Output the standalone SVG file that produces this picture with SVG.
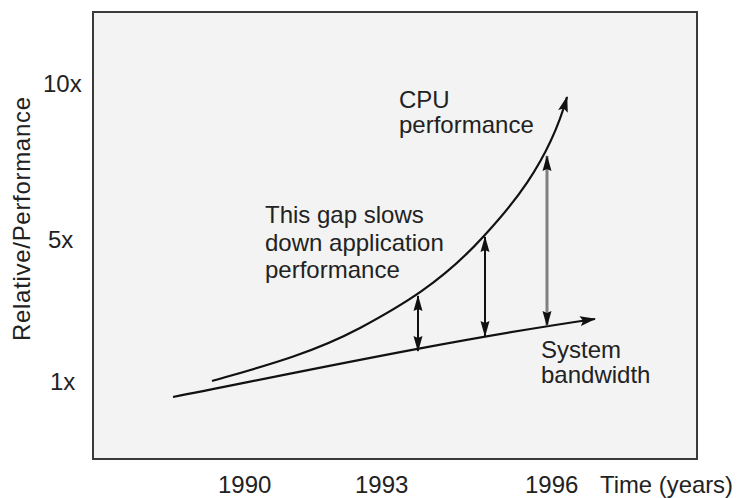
<svg xmlns="http://www.w3.org/2000/svg" width="737" height="498" viewBox="0 0 737 498">
<style>
  text { font-family: "Liberation Sans", Arial, sans-serif; font-size: 24px; fill: #222; }
  .curve { fill: none; stroke: #111; stroke-width: 2.2; }
  .gap { fill: none; stroke: #111; stroke-width: 2; }
  .gap2 { fill: none; stroke: #808080; stroke-width: 3; }
</style>
<defs>
  <marker id="ah" viewBox="0 0 16 10" refX="15" refY="5" markerWidth="16" markerHeight="10" markerUnits="userSpaceOnUse" orient="auto-start-reverse">
    <path d="M0,0 L16,5 L0,10 L3,5 Z" fill="#111"/>
  </marker>
  <marker id="ahs" viewBox="0 0 16 10" refX="15" refY="5" markerWidth="16" markerHeight="10" markerUnits="userSpaceOnUse" orient="auto-start-reverse">
    <path d="M0,0.5 L16,5 L0,9.5 L2,5 Z" fill="#111"/>
  </marker>
</defs>
<rect x="0" y="0" width="737" height="498" fill="#ffffff"/>
<g id="plot-frame">
  <rect x="93" y="12" width="604" height="447" fill="#f3f3f3" stroke="#3a3a3a" stroke-width="2"/>
</g>
<g id="axis-labels">
  <text x="43" y="92">10x</text>
  <text x="48" y="248">5x</text>
  <text x="50" y="390">1x</text>
  <text transform="translate(30,219) rotate(-90)" text-anchor="middle" textLength="244" lengthAdjust="spacing">Relative/Performance</text>
  <text x="218" y="493">1990</text>
  <text x="355" y="493">1993</text>
  <text x="525" y="493">1996</text>
  <text x="600" y="493" textLength="133" lengthAdjust="spacingAndGlyphs">Time (years)</text>
</g>
<g id="connectors">
  <path id="cpu-curve" class="curve" d="M212,381 C261,367 311,354 360,328 C401,306 442,282 483,237 C508,210 548,165 567,97" marker-end="url(#ah)"/>
  <path id="bandwidth-line" class="curve" d="M173,397 C300,372 450,340 595,319" marker-end="url(#ah)"/>
  <line id="gap-1" class="gap" x1="418" y1="296" x2="418" y2="351" marker-start="url(#ahs)" marker-end="url(#ahs)"/>
  <line id="gap-2" class="gap" x1="485" y1="237" x2="485" y2="336" marker-start="url(#ahs)" marker-end="url(#ahs)"/>
  <line id="gap-3" class="gap2" x1="547" y1="156" x2="547" y2="326" marker-start="url(#ahs)" marker-end="url(#ahs)"/>
</g>
<g id="label-cpu">
  <text x="399" y="108">CPU</text>
  <text x="399" y="133">performance</text>
</g>
<g id="label-gap">
  <text x="265" y="223">This gap slows</text>
  <text x="265" y="251">down application</text>
  <text x="265" y="278">performance</text>
</g>
<g id="label-bandwidth">
  <text x="541" y="358">System</text>
  <text x="541" y="383">bandwidth</text>
</g>
</svg>
